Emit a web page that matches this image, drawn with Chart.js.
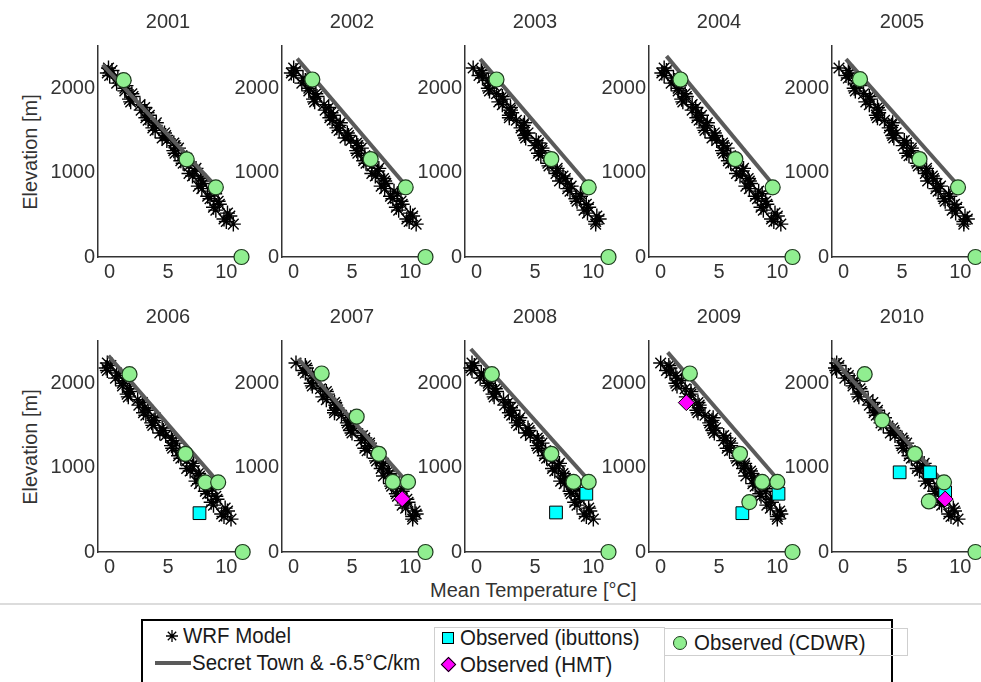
<!DOCTYPE html>
<html>
<head>
<meta charset="utf-8">
<script src="https://cdn.jsdelivr.net/npm/chart.js@4.4.1/dist/chart.umd.min.js"></script>
<style>
  body { margin: 0; background: #fff; font-family: "Liberation Sans", Arial, sans-serif; color: #333; }
  #wrap { position: relative; width: 981px; height: 682px; overflow: hidden; background: #fff; }
  canvas.panel { position: absolute; }
  .txt { position: absolute; font-size: 20px; line-height: 24px; white-space: nowrap; color: #262626; }
  .leg { position: absolute; font-size: 22px; line-height: 24px; white-space: nowrap; color: #1a1a1a;
         transform: scaleX(0.93); transform-origin: left center; }
  .ylab { position: absolute; font-size: 20px; white-space: nowrap; color: #333; transform: translate(-50%, -50%) rotate(-90deg); }
  .box { position: absolute; box-sizing: border-box; }
</style>
</head>
<body>
<div id="wrap">
  <div class="ylab" style="left:30px;top:152px;">Elevation [m]</div>
  <div class="ylab" style="left:30px;top:447px;">Elevation [m]</div>
  <div class="txt" style="left:430px;top:578px;color:#333;">Mean Temperature [°C]</div>
  <div class="box" style="left:0;top:603px;width:981px;height:2px;background:#dcdcdc;"></div>

  <!-- legend -->
  <div class="box" style="left:141px;top:619px;width:752px;height:80px;border:2px solid #000;"></div>
  <div class="box" style="left:434px;top:627px;width:231px;height:70px;border:1px solid #cfcfcf;"></div>
  <div class="box" style="left:665px;top:628px;width:243px;height:28px;border:1px solid #cfcfcf;border-left:none;"></div>
  <canvas id="astk" width="16" height="16" style="position:absolute;left:164px;top:628px;"></canvas>
  <div class="leg" style="left:183px;top:624px;">WRF Model</div>
  <div class="box" style="left:155px;top:661px;width:36px;height:4px;background:#5a5a5a;"></div>
  <div class="leg" style="left:192px;top:651px;">Secret Town &amp; -6.5°C/km</div>
  <div class="box" style="left:442px;top:632px;width:12px;height:12px;background:#00ffff;border:1px solid #000;"></div>
  <div class="leg" style="left:460px;top:626px;">Observed (ibuttons)</div>
  <div class="box" style="left:443px;top:659px;width:11px;height:11px;background:#ff00ff;border:1px solid #000;transform:rotate(45deg);"></div>
  <div class="leg" style="left:460px;top:653px;">Observed (HMT)</div>
  <div class="box" style="left:673px;top:636px;width:14px;height:14px;border-radius:50%;background:#90ee90;border:1px solid #1e3a1e;"></div>
  <div class="leg" style="left:694px;top:631px;">Observed (CDWR)</div>
</div>

<script>
// panel years
var years = ['2001', '2002', '2003', '2004', '2005', '2006', '2007', '2008', '2009', '2010'];

// WRF grid cell elevations (m), two interleaved sets shared by every year
var wrfElev = [2240, 2180, 2120, 2060, 2000, 1935, 1870, 1805, 1740, 1680, 1620, 1560, 1500, 1440, 1380, 1320,
               1260, 1200, 1140, 1080, 1020, 960, 900, 840, 780, 720, 660, 590, 520, 450, 390];
var wrfElevB = [2210, 2150, 2090, 2030, 1968, 1902, 1838, 1772, 1710, 1650, 1590, 1530, 1470, 1410, 1350,
                1290, 1230, 1170, 1110, 1050, 990, 930, 870, 810, 750, 690, 625, 555, 485, 420];

// WRF mean temperature (°C) per year, same order as wrfElev
var wrf2001 = [-0.1, -0.2, 0.7, 0.6, 1.3, 1.9, 1.7, 2.6, 2.7, 3.4, 3.3, 3.9, 3.9, 4.8, 4.9, 5.6, 5.5, 6.2, 6.1, 6.8, 7.3, 7.1, 7.9, 7.6, 8.7, 8.4, 9.3, 8.9, 10.1, 9.8, 10.6];
var wrf2002 = [0.0, -0.2, 0.8, 0.7, 1.3, 1.9, 1.7, 2.6, 2.7, 3.4, 3.3, 3.9, 3.9, 4.7, 4.9, 5.5, 5.4, 6.1, 6.0, 6.7, 7.2, 7.0, 7.8, 7.5, 8.6, 8.3, 9.2, 8.8, 10.0, 9.7, 10.5];
var wrf2003 = [-0.3, 0.5, 0.5, 1.1, 1.0, 1.7, 2.3, 2.2, 2.9, 2.8, 3.4, 4.0, 4.0, 4.1, 5.1, 5.0, 5.6, 5.5, 6.3, 6.2, 6.9, 7.4, 7.1, 8.1, 8.0, 8.9, 8.6, 9.6, 9.5, 10.5, 10.2];
var wrf2004 = [0.3, 0.1, 1.1, 0.9, 1.5, 2.1, 1.8, 2.7, 2.7, 3.5, 3.3, 3.9, 3.8, 4.7, 4.8, 5.4, 5.3, 6.0, 5.8, 6.5, 7.0, 6.8, 7.6, 7.3, 8.4, 8.1, 9.0, 8.6, 9.8, 9.5, 10.3];
var wrf2005 = [-0.4, 0.5, 0.4, 1.1, 0.9, 1.7, 2.3, 2.2, 3.0, 2.8, 3.5, 4.1, 4.1, 4.2, 5.2, 5.1, 5.8, 5.6, 6.5, 6.4, 7.1, 7.6, 7.2, 8.3, 8.1, 9.1, 8.7, 9.7, 9.6, 10.6, 10.3];
var wrf2006 = [-0.2, -0.3, 0.6, 0.5, 1.1, 1.7, 1.5, 2.4, 2.5, 3.3, 3.1, 3.8, 3.7, 4.6, 4.8, 5.4, 5.3, 6.0, 5.9, 6.6, 7.1, 6.9, 7.7, 7.4, 8.5, 8.2, 9.1, 8.7, 9.9, 9.6, 10.4];
var wrf2007 = [0.2, 1.1, 1.0, 1.7, 1.5, 2.3, 2.9, 2.8, 3.6, 3.5, 4.1, 4.8, 4.7, 4.9, 5.9, 5.8, 6.5, 6.3, 7.2, 7.1, 7.6, 8.1, 7.7, 8.7, 8.4, 9.3, 8.9, 9.8, 9.6, 10.5, 10.2];
var wrf2008 = [-0.4, -0.5, 0.4, 0.3, 1.0, 1.6, 1.4, 2.3, 2.4, 3.1, 3.0, 3.6, 3.6, 4.5, 4.6, 5.3, 5.2, 5.9, 5.8, 6.5, 7.0, 6.7, 7.5, 7.2, 8.3, 8.0, 8.8, 8.4, 9.6, 9.2, 10.0];
var wrf2009 = [0.0, 0.8, 0.8, 1.4, 1.3, 2.1, 2.6, 2.5, 3.3, 3.1, 3.8, 4.4, 4.3, 4.5, 5.4, 5.4, 6.0, 5.9, 6.7, 6.6, 7.2, 7.7, 7.3, 8.3, 8.1, 9.0, 8.6, 9.5, 9.4, 10.3, 10.0];
var wrf2010 = [-0.6, -0.7, 0.2, 0.1, 0.8, 1.4, 1.2, 2.1, 2.2, 2.9, 2.8, 3.4, 3.4, 4.3, 4.4, 5.1, 5.0, 5.7, 5.6, 6.3, 6.8, 6.5, 7.3, 7.0, 8.1, 7.8, 8.6, 8.2, 9.4, 9.0, 9.8];

// WRF mean temperature (°C) per year, same order as wrfElevB
var wrfB2001 = [0.2, 0.0, 0.9, 1.4, 1.3, 2.0, 1.8, 3.0, 3.2, 3.1, 4.0, 3.7, 4.7, 4.5, 5.5, 5.9, 5.6, 6.6, 6.3, 7.4, 6.8, 7.8, 8.0, 7.9, 9.0, 8.6, 9.4, 9.1, 10.3, 10.0];
var wrfB2002 = [0.2, 0.0, 1.0, 1.4, 1.3, 2.0, 1.8, 3.0, 3.2, 3.1, 4.0, 3.7, 4.6, 4.4, 5.4, 5.8, 5.5, 6.5, 6.2, 7.3, 6.7, 7.7, 7.9, 7.8, 8.9, 8.5, 9.3, 9.0, 10.2, 9.9];
var wrfB2003 = [0.4, 0.2, 1.0, 1.5, 1.1, 2.2, 1.9, 2.9, 3.0, 2.8, 4.1, 3.8, 4.4, 4.2, 5.3, 5.6, 5.3, 6.3, 6.1, 6.9, 6.8, 7.6, 7.8, 7.8, 8.9, 8.5, 9.4, 9.2, 10.3, 10.2];
var wrfB2004 = [0.5, 0.3, 1.2, 1.6, 1.5, 2.2, 1.9, 3.0, 3.2, 3.1, 4.0, 3.7, 4.6, 4.4, 5.3, 5.7, 5.4, 6.3, 6.0, 7.1, 6.5, 7.5, 7.7, 7.6, 8.7, 8.3, 9.1, 8.8, 10.0, 9.7];
var wrfB2005 = [0.4, 0.2, 1.0, 1.4, 1.0, 2.2, 1.9, 2.9, 3.0, 2.9, 4.2, 3.9, 4.5, 4.3, 5.4, 5.8, 5.4, 6.5, 6.3, 7.1, 7.0, 7.7, 8.0, 7.9, 9.0, 8.6, 9.5, 9.3, 10.4, 10.3];
var wrfB2006 = [0.1, -0.2, 0.8, 1.2, 1.1, 1.8, 1.6, 2.8, 3.0, 2.9, 3.9, 3.6, 4.5, 4.3, 5.3, 5.7, 5.4, 6.4, 6.1, 7.2, 6.6, 7.6, 7.8, 7.7, 8.8, 8.4, 9.2, 8.9, 10.1, 9.8];
var wrfB2007 = [1.0, 0.8, 1.6, 2.0, 1.6, 2.8, 2.5, 3.5, 3.7, 3.5, 4.9, 4.6, 5.1, 5.0, 6.1, 6.5, 6.1, 7.2, 7.0, 7.7, 7.5, 8.2, 8.4, 8.3, 9.3, 8.8, 9.7, 9.3, 10.4, 10.2];
var wrfB2008 = [-0.2, -0.4, 0.6, 1.1, 1.0, 1.7, 1.5, 2.7, 2.9, 2.8, 3.7, 3.4, 4.4, 4.2, 5.2, 5.6, 5.3, 6.3, 6.0, 7.1, 6.5, 7.4, 7.6, 7.5, 8.6, 8.1, 8.9, 8.6, 9.7, 9.4];
var wrfB2009 = [0.7, 0.5, 1.3, 1.8, 1.4, 2.6, 2.2, 3.2, 3.3, 3.2, 4.5, 4.2, 4.7, 4.6, 5.6, 6.0, 5.7, 6.7, 6.5, 7.2, 7.1, 7.8, 8.0, 7.9, 9.0, 8.5, 9.4, 9.1, 10.2, 10.0];
var wrfB2010 = [-0.4, -0.6, 0.4, 0.9, 0.8, 1.5, 1.3, 2.5, 2.7, 2.6, 3.5, 3.2, 4.2, 4.0, 5.0, 5.4, 5.1, 6.1, 5.8, 6.9, 6.3, 7.2, 7.4, 7.3, 8.4, 7.9, 8.7, 8.4, 9.5, 9.2];

// Secret Town & -6.5°C/km line: [temp, elev] top and bottom
var line2001 = [[-0.6, 2280], [8.8, 880]];
var line2002 = [[0.3, 2350], [9.4, 880]];
var line2003 = [[0.3, 2345], [9.4, 880]];
var line2004 = [[0.5, 2380], [9.5, 880]];
var line2005 = [[0.2, 2345], [9.6, 880]];
var line2006 = [[-0.1, 2325], [8.9, 890]];
var line2007 = [[0.4, 2290], [9.5, 860]];
var line2008 = [[-0.5, 2405], [9.3, 897]];
var line2009 = [[0.6, 2365], [9.8, 897]];
var line2010 = [[-0.9, 2290], [8.2, 880]];

// Observed (CDWR): [temp, elev]
var cdwr2001 = [[1.2, 2095], [6.6, 1156], [9.1, 825], [11.3, 0]];
var cdwr2002 = [[1.6, 2103], [6.6, 1160], [9.6, 825], [11.3, 0]];
var cdwr2003 = [[1.7, 2103], [6.4, 1160], [9.6, 825], [11.3, 0]];
var cdwr2004 = [[1.7, 2103], [6.4, 1160], [9.6, 825], [11.3, 0]];
var cdwr2005 = [[1.4, 2107], [6.5, 1160], [9.8, 825], [11.3, 0]];
var cdwr2006 = [[1.7, 2107], [6.5, 1163], [8.2, 825], [9.3, 825], [11.4, 0]];
var cdwr2007 = [[2.4, 2115], [5.4, 1603], [7.3, 1163], [8.5, 830], [9.8, 830], [11.3, 0]];
var cdwr2008 = [[1.3, 2107], [6.4, 1163], [8.3, 830], [9.6, 830], [11.3, 0]];
var cdwr2009 = [[2.5, 2115], [6.8, 1163], [8.7, 830], [10.0, 830], [7.6, 591], [11.3, 0]];
var cdwr2010 = [[1.8, 2107], [3.3, 1560], [6.1, 1163], [8.6, 825], [7.3, 599], [11.3, 0]];

// Observed (ibuttons)
var ibut2006 = [[7.7, 460]];
var ibut2008 = [[6.8, 468], [9.4, 690]];
var ibut2009 = [[7.0, 460], [10.1, 690]];
var ibut2010 = [[4.8, 944], [7.4, 944], [8.7, 706]];

// Observed (HMT)
var hmt2007 = [[9.3, 631]];
var hmt2009 = [[2.2, 1770]];
var hmt2010 = [[8.7, 627]];

var wrfAll = [wrf2001, wrf2002, wrf2003, wrf2004, wrf2005, wrf2006, wrf2007, wrf2008, wrf2009, wrf2010];
var wrfBAll = [wrfB2001, wrfB2002, wrfB2003, wrfB2004, wrfB2005, wrfB2006, wrfB2007, wrfB2008, wrfB2009, wrfB2010];
var lineAll = [line2001, line2002, line2003, line2004, line2005, line2006, line2007, line2008, line2009, line2010];
var cdwrAll = [cdwr2001, cdwr2002, cdwr2003, cdwr2004, cdwr2005, cdwr2006, cdwr2007, cdwr2008, cdwr2009, cdwr2010];
var ibutAll = [[], [], [], [], [], ibut2006, [], ibut2008, ibut2009, ibut2010];
var hmtAll = [[], [], [], [], [], [], hmt2007, [], hmt2009, hmt2010];

var axisX = [98, 282, 465, 649, 832];
var FONT = "'Liberation Sans', Arial, sans-serif";

function pts(arr) {
  return arr.map(function(p){ return {x: p[0], y: p[1]}; });
}

var titlePlugin = {
  id: 'panelTitle',
  afterDraw: function(chart) {
    var a = chart.chartArea, ctx = chart.ctx;
    ctx.save();
    ctx.font = '20px ' + FONT;
    ctx.fillStyle = '#333';
    ctx.textAlign = 'center';
    ctx.textBaseline = 'middle';
    ctx.fillText(chart.options.plugins.panelTitle.text, (a.left + a.right) / 2, 22);
    ctx.restore();
  }
};

var wrap = document.getElementById('wrap');

years.forEach(function(yr, i) {
  var col = i % 5, row = Math.floor(i / 5);
  var cv = document.createElement('canvas');
  cv.className = 'panel';
  cv.width = 226; cv.height = 291;
  cv.style.left = (axisX[col] - 70) + 'px';
  cv.style.top = (row * 295) + 'px';
  wrap.appendChild(cv);

  var wrfPts = wrfElev.map(function(e, k){ return {x: wrfAll[i][k], y: e}; })
    .concat(wrfElevB.map(function(e, k){ return {x: wrfBAll[i][k], y: e}; }));

  new Chart(cv, {
    type: 'scatter',
    data: {
      datasets: [
        { label: 'Observed (CDWR)', data: pts(cdwrAll[i]), pointStyle: 'circle', pointRadius: 7.5,
          backgroundColor: '#90ee90', borderColor: '#1e3a1e', borderWidth: 1.2, clip: false },
        { label: 'Observed (HMT)', data: pts(hmtAll[i]), pointStyle: 'rectRot', pointRadius: 8,
          backgroundColor: '#ff00ff', borderColor: '#000', borderWidth: 1, clip: false },
        { label: 'Observed (ibuttons)', data: pts(ibutAll[i]), pointStyle: 'rect', pointRadius: 9,
          backgroundColor: '#00ffff', borderColor: '#000', borderWidth: 1, clip: false },
        { label: 'Secret Town & -6.5°C/km', data: pts(lineAll[i]), showLine: true, pointRadius: 0,
          borderColor: '#5a5a5a', borderWidth: 4, fill: false, clip: false },
        { label: 'WRF Model', data: wrfPts, pointStyle: 'star', pointRadius: 7.5,
          borderColor: '#000', backgroundColor: 'rgba(0,0,0,0)', borderWidth: 1.4, clip: false }
      ]
    },
    options: {
      responsive: false,
      animation: false,
      events: [],
      layout: { padding: { top: 46, right: 16, left: 0, bottom: 0 } },
      plugins: { legend: { display: false }, tooltip: { enabled: false }, panelTitle: { text: yr } },
      scales: {
        x: {
          type: 'linear', min: -1, max: 11,
          afterBuildTicks: function(s){ s.ticks = [0, 5, 10].map(function(v){ return {value: v}; }); },
          afterFit: function(s){ s.height = 34; },
          grid: { display: false, drawTicks: false },
          border: { display: true, color: '#333', width: 1.5 },
          ticks: { font: { family: FONT, size: 20 }, color: '#333', padding: 3, maxRotation: 0, autoSkip: false,
                   callback: function(v){ return String(v); } }
        },
        y: {
          type: 'linear', min: 0, max: 2500,
          afterBuildTicks: function(s){ s.ticks = [0, 1000, 2000].map(function(v){ return {value: v}; }); },
          afterFit: function(s){ s.width = 70; },
          grid: { display: false, drawTicks: false },
          border: { display: true, color: '#333', width: 1.5 },
          ticks: { font: { family: FONT, size: 20 }, color: '#333', padding: 3, autoSkip: false,
                   callback: function(v){ return String(v); } }
        }
      }
    },
    plugins: [titlePlugin]
  });
});

// legend asterisk swatch
(function(){
  var c = document.getElementById('astk').getContext('2d');
  c.strokeStyle = '#000'; c.lineWidth = 1.3;
  c.beginPath();
  c.moveTo(8, 2); c.lineTo(8, 14);
  c.moveTo(2, 8); c.lineTo(14, 8);
  c.moveTo(3.8, 3.8); c.lineTo(12.2, 12.2);
  c.moveTo(12.2, 3.8); c.lineTo(3.8, 12.2);
  c.stroke();
})();
</script>
</body>
</html>
